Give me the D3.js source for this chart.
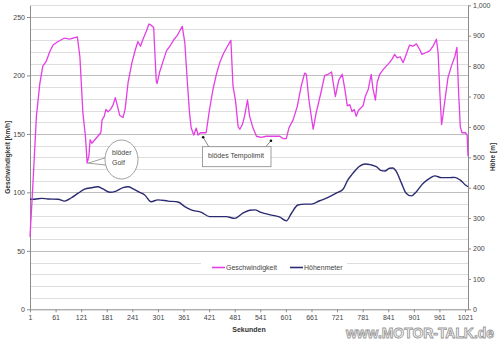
<!DOCTYPE html>
<html><head><meta charset="utf-8">
<script src="https://cdn.jsdelivr.net/npm/d3@7"></script>
<style>
html,body{margin:0;padding:0;background:#fff;}
svg{display:block;}
text{font-family:"Liberation Sans",Arial,sans-serif;}
</style></head>
<body>
<svg id="c" width="500" height="342"></svg>
<script>
// ---- data ----
const speedT = [1,8,16,24,31,39,47,55,67,82,94,102,112,118,125,131,135,139,142,146,153,160,167,170,175,179,184,190,196,201,206,211,219,224,231,240,248,254,260,266,274,280,285,291,297,299,305,313,321,329,339,346,352,358,364,370,375,379,385,391,395,401,407,414,422,430,438,446,455,464,472,477,483,489,493,499,504,511,516,524,532,543,555,575,587,594,602,608,618,628,637,645,649,655,665,672,683,692,700,708,717,725,733,739,745,751,756,761,766,771,776,782,787,794,801,805,811,815,821,829,839,844,850,856,862,869,876,883,891,899,907,915,920,926,938,946,954,958,962,966,969,975,981,989,997,1002,1006,1010,1014,1022,1026,1028];
const speedV = [62,108,165,193,208,212,220,226,229,232,231,232,233,216,168,148,125,131,145,142,145,148,151,162,165,171,169,171,175,181,174,166,164,171,194,211,222,229,225,231,238,244,243,241,195,193,203,212,221,225,231,234,238,242,228,194,168,155,149,155,149,151,151,151,171,188,201,211,219,225,230,191,178,156,154,158,165,179,165,155,148,147,148,148,148,146,146,155,162,174,191,202,201,179,154,168,185,200,201,203,182,196,201,189,174,175,169,171,165,170,172,174,182,188,201,189,179,194,201,205,209,211,214,218,215,216,211,218,226,225,227,222,218,219,221,225,231,219,185,158,165,182,198,208,216,224,185,156,151,151,149,131];
const altT = [1,12,28,43,67,82,98,114,129,145,160,172,188,203,219,231,243,256,270,285,301,325,348,364,379,403,422,442,461,481,500,516,528,543,567,587,602,614,629,645,661,680,700,719,735,746,758,772,786,801,813,825,833,844,852,860,872,883,895,907,923,938,950,966,985,997,1010,1022,1028];
const altV = [362,362,365,363,362,356,367,382,395,400,403,396,385,389,400,403,396,386,376,354,360,356,353,338,327,319,305,305,305,299,316,326,327,319,310,303,291,316,343,346,346,357,368,382,395,425,447,469,478,475,469,456,455,464,465,453,415,382,373,387,415,431,439,433,433,434,425,409,403];
const xTickLabels = ["1","61","121","181","241","301","361","421","481","541","601","661","721","781","841","901","961","1021"];
const leftTicks = [0,50,100,150,200,250];
const rightTicks = [0,100,200,300,400,500,600,700,800,900,1000];
const seriesNames = ["Geschwindigkeit","Höhenmeter"];
const axisTitles = {left:"Geschwindigkeit [km/h]", right:"Höhe [m]", bottom:"Sekunden"};

// ---- layout ----
const L = 30, R = 468, T = 5.3, B = 309.3;
const svg = d3.select("#c");
const x = d3.scaleLinear().domain([1,1028]).range([L,R]);
const yL = d3.scaleLinear().domain([0,260]).range([B,T]);
const yR = d3.scaleLinear().domain([0,1000]).range([B,T]);

// gridlines
const grid = d3.range(10,261,10);
svg.append("g").selectAll("line").data(grid).join("line")
  .attr("x1",L).attr("x2",R)
  .attr("y1",d=>Math.round(yL(d))+0.5).attr("y2",d=>Math.round(yL(d))+0.5)
  .attr("stroke",d=>d%50===0?"#bdbdbd":"#dedede").attr("stroke-width",1);

// axes
function styleAxis(g){
  g.selectAll("path,line").attr("stroke","#8c8c8c");
  g.selectAll("text").attr("font-size","7px").attr("fill","#444");
}
svg.append("g").attr("transform",`translate(${L},0)`)
  .call(d3.axisLeft(yL).tickValues(leftTicks).tickSize(3).tickPadding(2).tickSizeOuter(0))
  .call(styleAxis);
svg.append("g").attr("transform",`translate(${R},0)`)
  .call(d3.axisRight(yR).tickValues(rightTicks).tickSize(3).tickPadding(2).tickSizeOuter(0))
  .call(styleAxis);
const xTickVals = xTickLabels.map(Number);
svg.append("g").attr("transform",`translate(0,${B})`)
  .call(d3.axisBottom(x).tickValues(xTickVals).tickFormat((d,i)=>xTickLabels[i]).tickSize(3).tickPadding(3).tickSizeOuter(0))
  .call(styleAxis);

// axis titles
svg.append("text").attr("transform",`translate(10,${(T+B)/2}) rotate(-90)`)
  .attr("text-anchor","middle").attr("font-size","6.5px").attr("font-weight","bold").attr("fill","#333")
  .text(axisTitles.left);
svg.append("text").attr("transform",`translate(495,157) rotate(-90)`)
  .attr("text-anchor","middle").attr("font-size","6.5px").attr("font-weight","bold").attr("fill","#333")
  .text(axisTitles.right);
svg.append("text").attr("x",249).attr("y",332)
  .attr("text-anchor","middle").attr("font-size","7px").attr("font-weight","bold").attr("fill","#333")
  .text(axisTitles.bottom);

// lines
const speedData = speedT.map((t,i)=>[t,speedV[i]]);
const altData = altT.map((t,i)=>[t,altV[i]]);
svg.append("path").datum(altData)
  .attr("d",d3.line().x(d=>x(d[0])).y(d=>yR(d[1])).curve(d3.curveMonotoneX))
  .attr("fill","none").attr("stroke","#2b2b72").attr("stroke-width",1.4);
svg.append("path").datum(speedData)
  .attr("d",d3.line().x(d=>x(d[0])).y(d=>yL(d[1])))
  .attr("fill","none").attr("stroke","#e43ee4").attr("stroke-width",1.3).attr("stroke-linejoin","round");

// legend
const lg = svg.append("g");
lg.append("rect").attr("x",201).attr("y",262.5).attr("width",146).attr("height",11).attr("fill","#fff");
const legendItems = [{name:seriesNames[0],color:"#e43ee4",x:212},{name:seriesNames[1],color:"#2b2b72",x:290}];
legendItems.forEach(it=>{
  lg.append("line").attr("x1",it.x).attr("x2",it.x+13).attr("y1",267.5).attr("y2",267.5)
    .attr("stroke",it.color).attr("stroke-width",1.6);
  lg.append("text").attr("x",it.x+14).attr("y",270).attr("font-size","7px").attr("fill","#444").text(it.name);
});

// callout: blöder Golf
const gx = x(135), gy = yL(125);
const cg = svg.append("g");
cg.append("path").attr("d",`M${gx+1},${gy} L${gx+20},${gy-6} L${gx+20},${gy+2} Z`)
  .attr("fill","#fff").attr("stroke","#888").attr("stroke-width",0.8);
cg.append("ellipse").attr("cx",121.5).attr("cy",159.5).attr("rx",16.5).attr("ry",19.5)
  .attr("fill","#fff").attr("stroke","#888").attr("stroke-width",0.8);
cg.append("path").attr("d",`M${gx+19.5},${gy-5.5} L${gx+19.5},${gy+1.5}`).attr("stroke","#fff").attr("stroke-width",1.4);
cg.append("text").attr("x",112).attr("y",155).attr("font-size","7px").attr("fill","#444").text("blöder");
cg.append("text").attr("x",112).attr("y",165).attr("font-size","7px").attr("fill","#444").text("Golf");

// callout: blödes Tempolimit
const tg = svg.append("g");
const p1 = [x(407), yL(151)+4.5], p2 = [x(566), yL(148)+4.5];
tg.append("line").attr("x1",209).attr("y1",147).attr("x2",p1[0]).attr("y2",p1[1]).attr("stroke","#555").attr("stroke-width",0.7);
tg.append("line").attr("x1",265.5).attr("y1",147).attr("x2",p2[0]).attr("y2",p2[1]).attr("stroke","#555").attr("stroke-width",0.7);
tg.append("circle").attr("cx",p1[0]).attr("cy",p1[1]).attr("r",1.3).attr("fill","#111");
tg.append("circle").attr("cx",p2[0]).attr("cy",p2[1]).attr("r",1.3).attr("fill","#111");
tg.append("rect").attr("x",202.5).attr("y",146.7).attr("width",68.5).attr("height",20)
  .attr("fill","#fff").attr("stroke","#888").attr("stroke-width",0.8);
tg.append("text").attr("x",208).attr("y",158).attr("font-size","7px").attr("fill","#444").text("blödes Tempolimit");

// watermark
svg.append("text").attr("x",346).attr("y",338).attr("font-family","'DejaVu Sans',sans-serif")
  .attr("font-size","14px").attr("font-weight","bold").attr("fill","#fff").attr("stroke","#9a9a9a").attr("stroke-width",0.9)
  .attr("textLength",148).attr("lengthAdjust","spacingAndGlyphs").text("www.MOTOR-TALK.de");
</script>
</body></html>
